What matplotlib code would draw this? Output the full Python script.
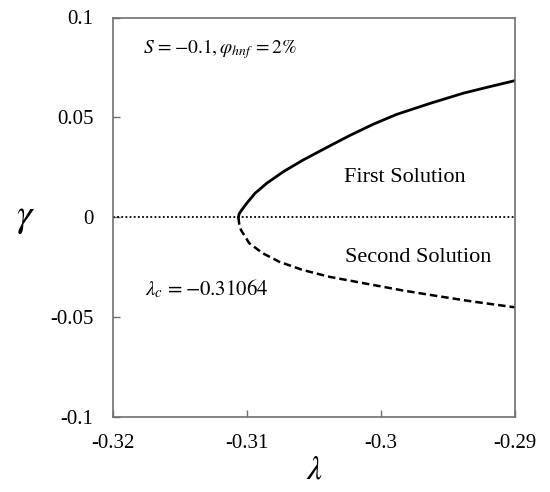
import matplotlib
matplotlib.use("Agg")
import matplotlib.pyplot as plt

plt.rcParams['font.family'] = ['Liberation Serif', 'DejaVu Serif']
plt.rcParams['mathtext.fontset'] = 'stix'

# First (upper) solution branch
lam_first = [-0.31064, -0.31058, -0.31040, -0.31002, -0.30940, -0.30853, -0.30729,
             -0.30580, -0.30431, -0.30306, -0.30231, -0.30057, -0.29883, -0.29634,
             -0.29386, -0.29187, -0.29]
gam_first = [0.0, 0.0018, 0.0036, 0.0070, 0.0120, 0.0170, 0.0228,
             0.0287, 0.0340, 0.0384, 0.0410, 0.0466, 0.0515, 0.0570,
             0.0621, 0.0654, 0.0684]

# Second (lower) solution branch
lam_second = [-0.31064, -0.31059, -0.31045, -0.30983, -0.30883, -0.30759, -0.30584,
              -0.30386, -0.30187, -0.30050, -0.29834, -0.29584, -0.29336, -0.29]
gam_second = [0.0, -0.0030, -0.0064, -0.0130, -0.0180, -0.0223, -0.0264,
              -0.0298, -0.0323, -0.0340, -0.0367, -0.0394, -0.0420, -0.0451]

xticks = [-0.32, -0.31, -0.30, -0.29]
xticklabels = ['-0.32', '-0.31', '-0.3', '-0.29']
yticks = [-0.1, -0.05, 0.0, 0.05, 0.1]
yticklabels = ['-0.1', '-0.05', '0', '0.05', '0.1']

fig = plt.figure(figsize=(5.5, 4.92), dpi=100)
ax = fig.add_axes([113/550, 1-417/492, 402/550, 399.5/492])

ax.axhline(0, color='black', lw=1.3, linestyle=(0, (1, 1.3)))
ax.plot(lam_first, gam_first, color='black', lw=2.0, solid_joinstyle='round')
ax.plot(lam_second, gam_second, color='black', lw=1.8, linestyle=(0, (3, 1.6)))

ax.set_xlim(-0.32, -0.29)
ax.set_ylim(-0.1, 0.1)
ax.set_xticks(xticks)
ax.set_xticklabels(xticklabels)
ax.set_yticks(yticks)
ax.set_yticklabels(yticklabels)
ax.tick_params(direction='in', length=5, width=1, color='#707070', labelsize=15)
ax.tick_params(axis='y', pad=14)
ax.tick_params(axis='x', pad=12)
for s in ax.spines.values():
    s.set_color('#707070')
    s.set_linewidth(1.2)

ax.set_xlabel(r'$\lambda$', fontsize=24, labelpad=2)
ax.set_ylabel(r'$\gamma$', fontsize=28, rotation=0, labelpad=18, va='center')

ax.text(0.075, 0.92, r'$S\,=-0.1,\varphi_{hnf}\,=2\%$', transform=ax.transAxes,
        fontsize=14, ha='left', va='center')
ax.text(0.725, 0.60, 'First Solution', transform=ax.transAxes, fontsize=16, ha='center', va='center')
ax.text(0.758, 0.40, 'Second Solution', transform=ax.transAxes, fontsize=16, ha='center', va='center')
ax.text(0.08, 0.32, r'$\lambda_c\,=-0.31064$', transform=ax.transAxes, fontsize=15, ha='left', va='center')

fig.savefig('out.png', dpi=100)
